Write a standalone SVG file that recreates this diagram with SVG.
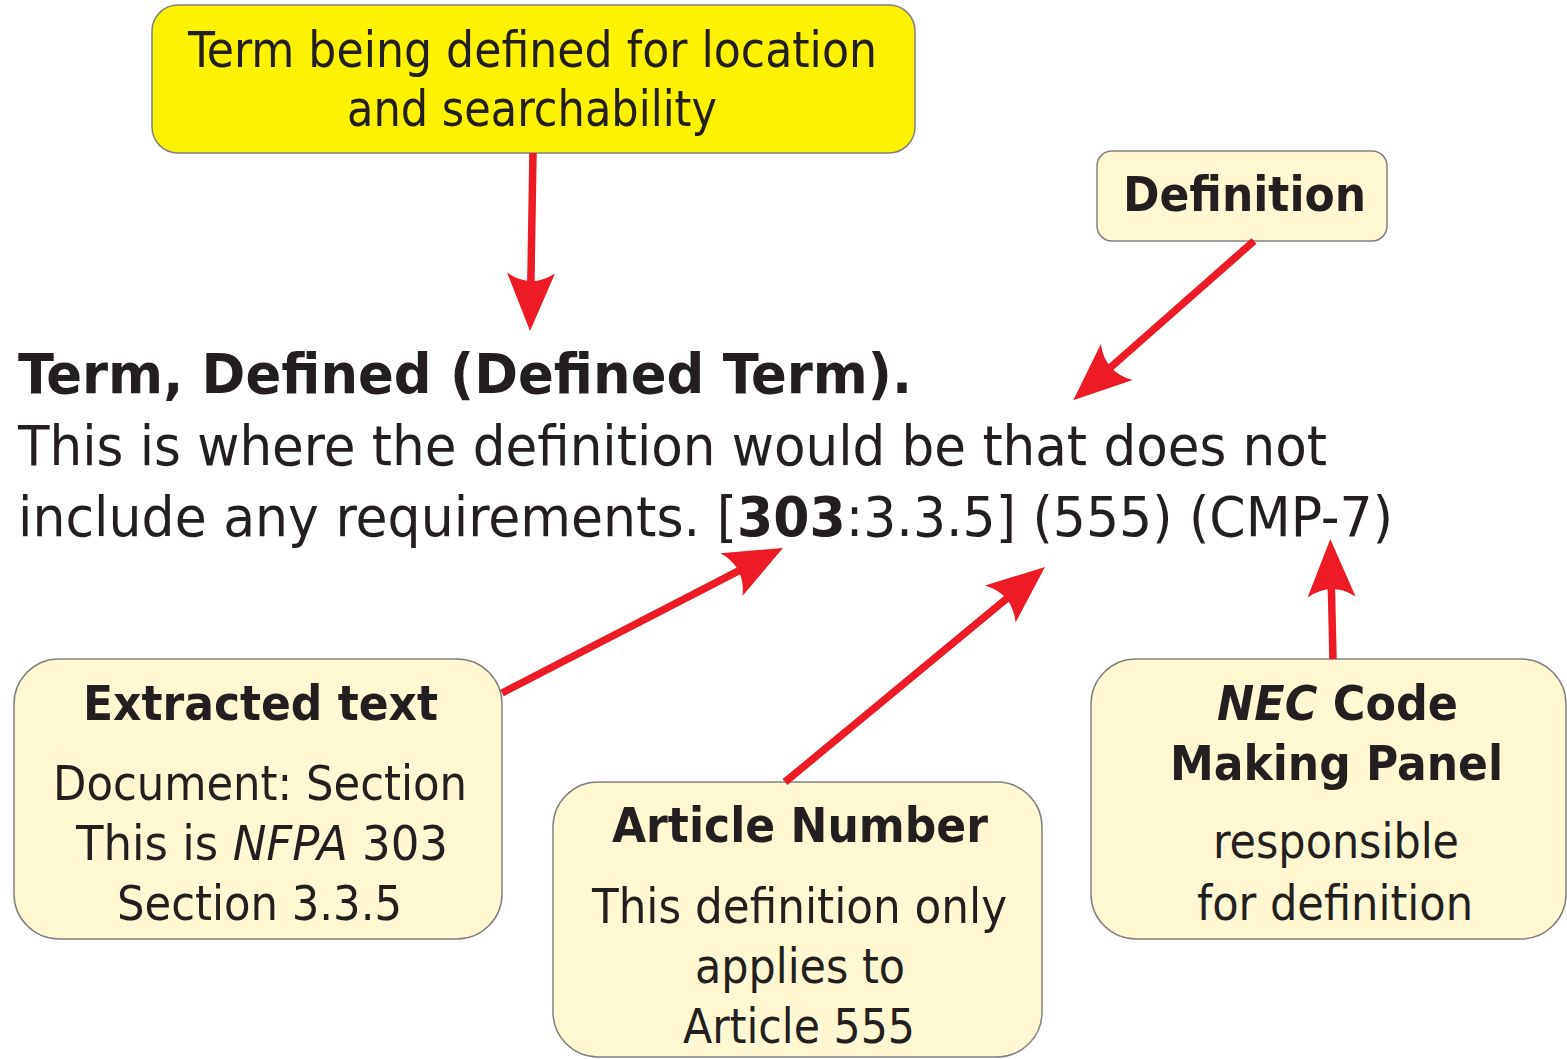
<svg xmlns="http://www.w3.org/2000/svg" width="1567" height="1059" viewBox="0 0 1567 1059">
<style>
text{font-family:"DejaVu Sans Condensed","DejaVu Sans",sans-serif;fill:#231f20}
.box{fill:#fff8d3;stroke:#808080;stroke-width:1.5}
.ybox{fill:#fff200;stroke:#808080;stroke-width:1.5}
.b{font-weight:bold}
.c{text-anchor:middle}
.conn line{stroke:#ed1c24;stroke-width:7.5;marker-end:url(#ah)}
</style>
<defs>
<marker id="ah" markerUnits="userSpaceOnUse" viewBox="-60 -30 60 60" markerWidth="60" markerHeight="60" refX="-45" refY="0" orient="auto" overflow="visible">
<path d="M0,0 L-58,-24 Q-42,0 -58,24 Z" fill="#ed1c24"/>
</marker>
</defs>
<rect width="1567" height="1059" fill="#fff"/>

<g id="term-box">
<rect class="ybox" x="152" y="5" width="763" height="148" rx="26"/>
<text class="c" x="532.5" y="67" font-size="50" textLength="689" lengthAdjust="spacingAndGlyphs">Term being defined for location</text>
<text class="c" x="532" y="126" font-size="50" textLength="370" lengthAdjust="spacingAndGlyphs">and searchability</text>
</g>

<g id="definition-box">
<rect class="box" x="1097" y="151" width="290" height="90" rx="15"/>
<text class="c b" x="1244.5" y="211" font-size="48" textLength="243" lengthAdjust="spacingAndGlyphs">Definition</text>
</g>

<g id="main-text">
<text class="b" x="18" y="393" font-size="56" textLength="894" lengthAdjust="spacingAndGlyphs">Term, Defined (Defined Term).</text>
<text x="18" y="465" font-size="56" textLength="1309" lengthAdjust="spacingAndGlyphs">This is where the definition would be that does not</text>
<text x="18" y="536" font-size="56" textLength="1375" lengthAdjust="spacingAndGlyphs">include any requirements. [<tspan class="b">303</tspan>:3.3.5] (555) (CMP-7)</text>
</g>

<g id="extracted-box">
<rect class="box" x="14" y="659" width="488" height="280" rx="45"/>
<text class="c b" x="260.5" y="720" font-size="48" textLength="355" lengthAdjust="spacingAndGlyphs">Extracted text</text>
<text class="c" x="260" y="800" font-size="48" textLength="414" lengthAdjust="spacingAndGlyphs">Document: Section</text>
<text class="c" x="262" y="860" font-size="48" textLength="372" lengthAdjust="spacingAndGlyphs">This is <tspan font-style="italic">NFPA</tspan> 303</text>
<text class="c" x="259.5" y="920" font-size="48" textLength="285" lengthAdjust="spacingAndGlyphs">Section 3.3.5</text>
</g>

<g id="article-box">
<rect class="box" x="553" y="782" width="489" height="275" rx="45"/>
<text class="c b" x="800" y="842" font-size="48" textLength="376" lengthAdjust="spacingAndGlyphs">Article Number</text>
<text class="c" x="799.5" y="923" font-size="48" textLength="415" lengthAdjust="spacingAndGlyphs">This definition only</text>
<text class="c" x="800" y="983" font-size="48" textLength="210" lengthAdjust="spacingAndGlyphs">applies to</text>
<text class="c" x="799" y="1043" font-size="48" textLength="232" lengthAdjust="spacingAndGlyphs">Article 555</text>
</g>

<g id="cmp-box">
<rect class="box" x="1091" y="659" width="475" height="280" rx="45"/>
<text class="c b" x="1337.5" y="720" font-size="48" textLength="241" lengthAdjust="spacingAndGlyphs"><tspan font-style="italic">NEC</tspan> Code</text>
<text class="c b" x="1336.5" y="780" font-size="48" textLength="333" lengthAdjust="spacingAndGlyphs">Making Panel</text>
<text class="c" x="1336" y="858" font-size="48" textLength="246" lengthAdjust="spacingAndGlyphs">responsible</text>
<text class="c" x="1335" y="920" font-size="48" textLength="276" lengthAdjust="spacingAndGlyphs">for definition</text>
</g>

<g id="connectors" class="conn">
<line x1="533" y1="153" x2="530.8" y2="286"/>
<line x1="1254" y1="241" x2="1107" y2="370.5"/>
<line x1="502" y1="693" x2="743" y2="568.6"/>
<line x1="785" y1="782" x2="1010.3" y2="595.7"/>
<line x1="1333" y1="659" x2="1331.3" y2="584"/>
</g>
</svg>
